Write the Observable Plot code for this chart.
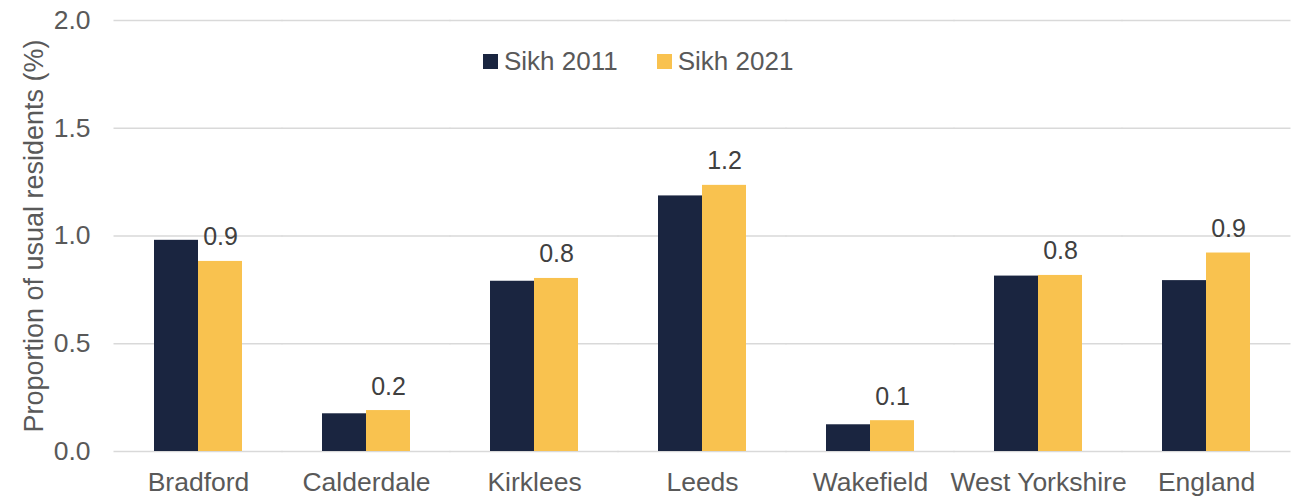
<!DOCTYPE html>
<html>
<head>
<meta charset="utf-8">
<script src="https://cdn.jsdelivr.net/npm/d3@7"></script>
<script src="https://cdn.jsdelivr.net/npm/@observablehq/plot@0.6"></script>
<style>
  html, body { margin: 0; padding: 0; background: #ffffff; }
  #wrap { position: relative; width: 1299px; height: 496px; font-family: "Liberation Sans", Arial, sans-serif; }
  #legend { position: absolute; left: 483px; top: 47px; display: flex; align-items: center; font-size: 26px; color: #595959; line-height: 28px; }
  .item { display: flex; align-items: center; }
  .sw { width: 15px; height: 15px; margin-right: 6px; }
  .item + .item { margin-left: 39px; }
</style>
</head>
<body>
<div id="wrap">
  <div id="chart"></div>
  <div id="legend"></div>
</div>
<script>
const categories = ["Bradford", "Calderdale", "Kirklees", "Leeds", "Wakefield", "West Yorkshire", "England"];
const seriesNames = ["Sikh 2011", "Sikh 2021"];
const sikh2011 = [0.980, 0.175, 0.790, 1.186, 0.124, 0.814, 0.793];
const sikh2021 = [0.882, 0.190, 0.803, 1.235, 0.143, 0.817, 0.921];
const yTicks = [0, 0.5, 1.0, 1.5, 2.0];
const colors = ["#1a2540", "#f9c24f"];

const rows = [];
categories.forEach((c, i) => {
  rows.push({category: c, series: seriesNames[0], value: sikh2011[i]});
  rows.push({category: c, series: seriesNames[1], value: sikh2021[i]});
});
const labelRows = rows.filter(d => d.series === seriesNames[1]);
const fmt = d3.format(".1f");

const chart = Plot.plot({
  width: 1299,
  height: 496,
  marginTop: 20,
  marginBottom: 45,
  marginLeft: 114,
  marginRight: 9,
  style: {fontFamily: "'Liberation Sans', Arial, sans-serif", fontSize: "26.5px", color: "#595959", background: "#ffffff"},
  fx: {domain: categories, paddingInner: 0.476, paddingOuter: 0.238, label: null, axis: "bottom", tickSize: 0, tickPadding: 21},
  x: {domain: seriesNames, axis: null, paddingInner: 0, paddingOuter: 0},
  y: {domain: [0, 2]},
  color: {domain: seriesNames, range: colors},
  marks: [
    Plot.ruleY(yTicks, {y: d => d, stroke: "#d9d9d9", strokeWidth: 1.5, insetLeft: -40.5, insetRight: -40.5}),
    Plot.barY(rows, {fx: "category", x: "series", y: "value", fill: "series"}),
    Plot.text(labelRows, {fx: "category", x: "series", y: "value", text: d => fmt(d.value), dy: -24, fill: "#404040", fontSize: 25}),
    Plot.axisY({ticks: yTicks, tickFormat: fmt, tickSize: 0, tickPadding: 64, label: null}),
    Plot.axisY({ticks: [], tickSize: 0, label: "Proportion of usual residents (%)", labelAnchor: "center", labelArrow: "none", labelOffset: 131, fontSize: 27})
  ]
});
document.getElementById("chart").appendChild(chart);

const legend = document.getElementById("legend");
seriesNames.forEach((s, i) => {
  const item = document.createElement("div");
  item.className = "item";
  const sw = document.createElement("span");
  sw.className = "sw";
  sw.style.background = colors[i];
  const t = document.createElement("span");
  t.textContent = s;
  item.appendChild(sw);
  item.appendChild(t);
  legend.appendChild(item);
});
</script>
</body>
</html>
